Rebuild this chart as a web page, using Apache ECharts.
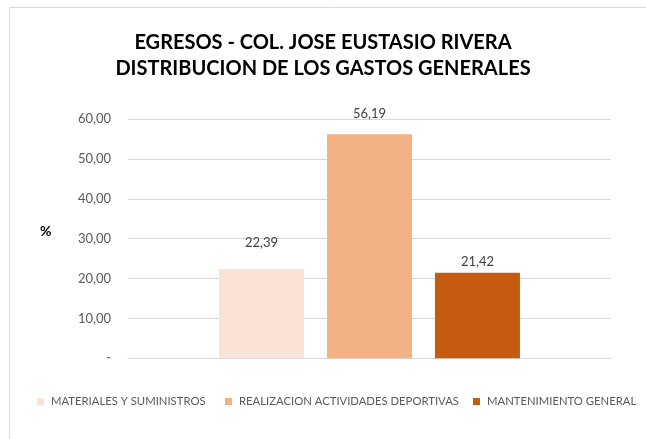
<!DOCTYPE html>
<html>
<head>
<meta charset="utf-8">
<script src="https://cdn.jsdelivr.net/npm/echarts@6/dist/echarts.min.js"></script>
<style>html,body{margin:0;padding:0;background:#fff;}#c{width:646px;height:439px;}</style>
</head>
<body>
<div id="c"></div>
<script>
const titleLines = ['EGRESOS - COL. JOSE EUSTASIO RIVERA', 'DISTRIBUCION DE LOS GASTOS GENERALES'];
const categories = [''];
const seriesNames = ['MATERIALES Y SUMINISTROS', 'REALIZACION ACTIVIDADES DEPORTIVAS', 'MANTENIMIENTO GENERAL'];
const seriesValues = [[22.39], [56.19], [21.42]];
const yTicks = [0, 10, 20, 30, 40, 50, 60];
const axisName = '%';

const colors = ['#F8E3D6', '#F4B183', '#C55A11'];
const labelDist = [20, 14, 5];
const legendLeft = [37, 225, 473];
const fmt = v => v === 0 ? '-' : v.toFixed(2).replace('.', ',');

const chart = echarts.init(document.getElementById('c'), null, {renderer: 'canvas'});
chart.setOption({
  animation: false,
  backgroundColor: '#fff',
  title: {
    text: titleLines.join('\n'),
    left: 'center',
    top: 25,
    textStyle: {fontFamily: 'Lato', fontWeight: 'bold', fontSize: 20, lineHeight: 26, color: '#000'}
  },
  graphic: [
    {type: 'rect', shape: {x: 9.5, y: 7.5, width: 700, height: 500}, style: {fill: 'none', stroke: '#D9D9D9', lineWidth: 1}, silent: true},
    {type: 'text', x: 40, y: 231, style: {text: axisName, font: 'bold 14px Lato', fill: '#000', verticalAlign: 'middle'}}
  ],
  grid: {left: 128, right: 35, top: 119, height: 239.3, containLabel: false},
  xAxis: {
    type: 'category',
    data: categories,
    axisLine: {show: true, lineStyle: {color: '#D9D9D9'}},
    axisTick: {show: false},
    axisLabel: {show: false}
  },
  yAxis: {
    type: 'value',
    min: yTicks[0],
    max: yTicks[yTicks.length - 1],
    interval: yTicks[1] - yTicks[0],
    axisLine: {show: false},
    axisTick: {show: false},
    splitLine: {lineStyle: {color: '#D9D9D9'}},
    axisLabel: {formatter: fmt, margin: 17, fontFamily: 'Lato', fontSize: 13, color: '#595959'}
  },
  legend: seriesNames.map((n, i) => ({
    data: [n],
    left: legendLeft[i],
    top: 396,
    padding: 0,
    icon: 'rect',
    itemWidth: 7,
    itemHeight: 7,
    selectedMode: false,
    textStyle: {fontFamily: 'Lato', fontSize: 11.3, color: '#595959', padding: [0, 0, 0, 2]}
  })),
  series: seriesNames.map((n, i) => ({
    name: n,
    type: 'bar',
    data: seriesValues[i],
    barWidth: 85,
    barGap: '27%',
    itemStyle: {color: colors[i]},
    label: {show: true, position: 'top', distance: labelDist[i], formatter: p => fmt(p.value), fontFamily: 'Lato', fontSize: 13, color: '#404040'}
  }))
});
</script>
</body>
</html>
